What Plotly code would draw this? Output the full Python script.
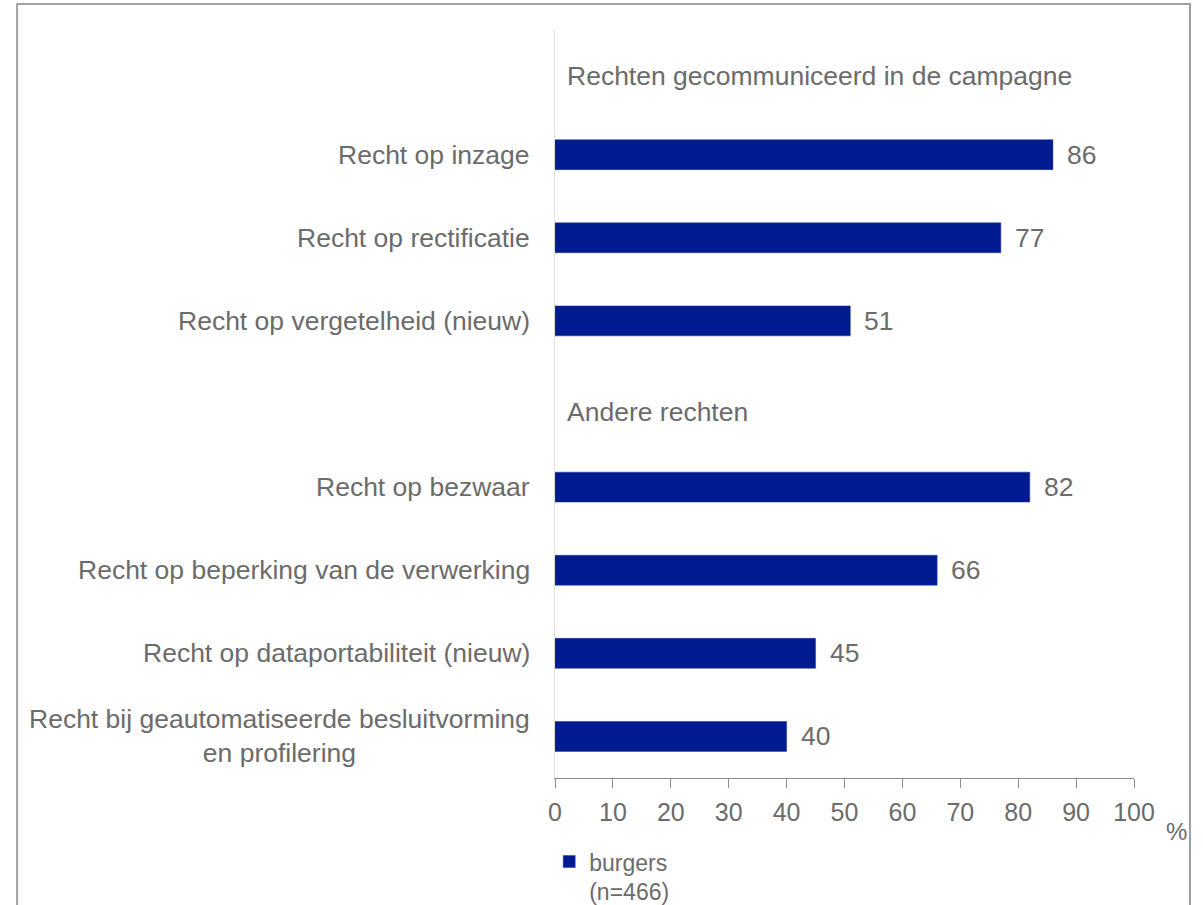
import plotly.graph_objects as go

# Section headers and the rights listed under each
header_campaign = "Rechten gecommuniceerd in de campagne"
header_other = "Andere rechten"

rights_campaign = [
    "Recht op inzage",
    "Recht op rectificatie",
    "Recht op vergetelheid (nieuw)",
]
values_campaign = [86, 77, 51]

rights_other = [
    "Recht op bezwaar",
    "Recht op beperking van de verwerking",
    "Recht op dataportabiliteit (nieuw)",
    "Recht bij geautomatiseerde besluitvorming<br>en profilering",
]
values_other = [82, 66, 45, 40]

series_name = "burgers<br>(n=466)"
x_ticks = [0, 10, 20, 30, 40, 50, 60, 70, 80, 90, 100]

rights = rights_campaign + rights_other
values = values_campaign + values_other
category_order = [header_campaign] + rights_campaign + [header_other] + rights_other

BAR_COLOR = "#001a8f"
TEXT_COLOR = "#6b6b6b"
FONT = "Liberation Sans, Arial, sans-serif"

fig = go.Figure()
fig.add_trace(go.Bar(
    x=values,
    y=rights,
    orientation="h",
    name=series_name,
    marker=dict(color=BAR_COLOR, line=dict(color="#1f36a0", width=0.5)),
    width=0.36,
    hoverinfo="x+y",
))

annotations = []
# Category labels, right-aligned next to the axis (multi-line centred)
for r in rights:
    annotations.append(dict(
        x=0, y=r, xref="x", yref="y", text=r, showarrow=False,
        xanchor="right", yanchor="middle", xshift=-23, align="center",
        font=dict(size=26.5, color=TEXT_COLOR, family=FONT),
    ))
# Value labels beyond the bar ends
for r, v in zip(rights, values):
    annotations.append(dict(
        x=v, y=r, xref="x", yref="y", text=str(v), showarrow=False,
        xanchor="left", yanchor="middle", xshift=12,
        font=dict(size=26.5, color=TEXT_COLOR, family=FONT),
    ))
# Section headers
for h, shift in [(header_campaign, -4), (header_other, -8)]:
    annotations.append(dict(
        x=0, y=h, xref="x", yref="y", text=h, showarrow=False,
        xanchor="left", yanchor="middle", xshift=10, yshift=shift,
        font=dict(size=26.5, color=TEXT_COLOR, family=FONT),
    ))
# Unit label
annotations.append(dict(
    x=1.074, y=-0.072, xref="paper", yref="paper", text="%", showarrow=False,
    xanchor="center", yanchor="middle",
    font=dict(size=24, color=TEXT_COLOR, family=FONT),
))

fig.update_layout(
    width=1203,
    height=905,
    margin=dict(l=555, r=69, t=30, b=127, autoexpand=False),
    paper_bgcolor="white",
    plot_bgcolor="white",
    font=dict(family=FONT, color=TEXT_COLOR),
    showlegend=True,
    legend=dict(
        x=-0.01, y=-0.083, xanchor="left", yanchor="top",
        font=dict(size=23, color=TEXT_COLOR, family=FONT),
        valign="top", itemwidth=30, bgcolor="rgba(0,0,0,0)",
    ),
    xaxis=dict(
        range=[0, 100],
        tickvals=x_ticks,
        showgrid=False,
        zeroline=False,
        showline=True,
        linecolor="#8c8c8c",
        linewidth=1,
        ticks="outside",
        ticklen=9,
        tickcolor="#8c8c8c",
        tickfont=dict(size=25, color=TEXT_COLOR, family=FONT),
        ticklabelstandoff=3,
        fixedrange=True,
    ),
    yaxis=dict(
        type="category",
        categoryorder="array",
        categoryarray=category_order,
        range=[len(category_order) - 0.5, -0.5],
        showticklabels=False,
        showgrid=False,
        zeroline=False,
        showline=True,
        linecolor="#dedede",
        linewidth=1,
        ticks="",
        fixedrange=True,
    ),
    annotations=annotations,
    shapes=[dict(
        type="rect", xref="paper", yref="paper",
        x0=-0.929, x1=1.0967, y0=-0.3, y1=1.0348,
        line=dict(color="#a0a0a0", width=2), fillcolor="rgba(0,0,0,0)",
        layer="below",
    )],
)

fig.write_html("out.html")
